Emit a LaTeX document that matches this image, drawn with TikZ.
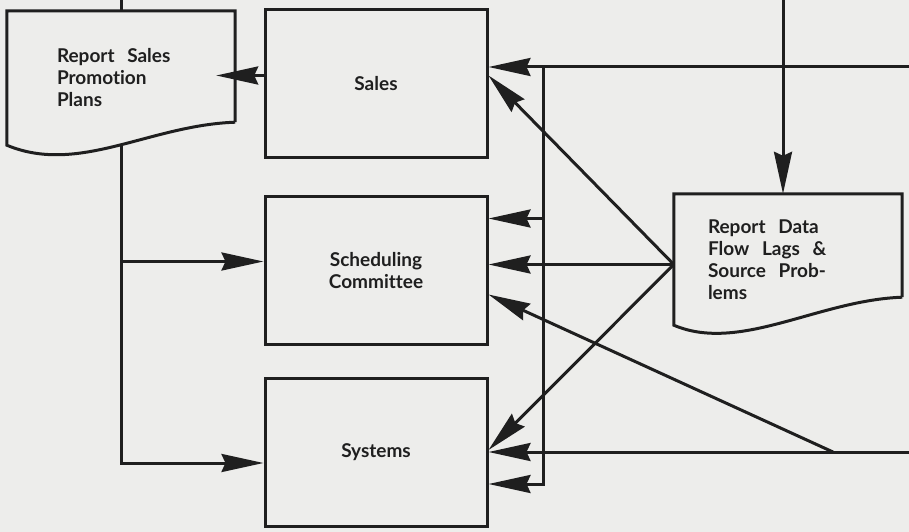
\documentclass[tikz,border=0pt]{standalone}
\usepackage{fontspec}
\setmainfont{Lato}[Ligatures=NoCommon]
\usetikzlibrary{arrows.meta}
\definecolor{paper}{rgb}{0.93,0.93,0.92}
\definecolor{ink}{rgb}{0.12,0.12,0.12}

\tikzset{
  box/.style={draw=ink, line width=3pt, minimum width=222pt, minimum height=148pt,
    align=center, font=\bfseries\fontsize{19}{22}\selectfont, text=ink},
  doc/.style={minimum width=228pt, text width=#1, align=left,
    font=\bfseries\fontsize{19}{22}\selectfont, text=ink},
  flow/.style={draw=ink, line width=3pt},
  arr/.style={flow, -{Stealth[length=42pt,width=18pt,inset=4pt]}},
}

\begin{document}
\begin{tikzpicture}[x=1pt,y=-1pt]
  \fill[paper] (0,0) rectangle (909,532);
  \useasboundingbox (0,0) rectangle (909,532);
  % boxes
  \node[box] (sales) at (376,83.5) {Sales};
  \node[box] (sched) at (376,270.5) {Scheduling\\Committee};
  \node[box] (sys) at (376,452) {Systems};
  % reports
  \node[doc=128pt, minimum height=134pt] (rsp) at (121,78) {Report\ \ Sales\\Promotion\\Plans};
  \node[doc=160pt, minimum height=131pt] (rdf) at (788,259.5) {Report\ \ Data\\Flow\ \ Lags\ \ \&\\Source\ \ Prob-\\lems};
  \draw[flow] ([yshift=23pt]rsp.south east) -- (rsp.north east) -- (rsp.north west) -- (rsp.south west)
    .. controls +(72,30) and +(-86,3) .. ([yshift=23pt]rsp.south east);
  \draw[flow] ([yshift=28pt]rdf.south east) -- (rdf.north east) -- (rdf.north west) -- (rdf.south west)
    .. controls +(66,28) and +(-84,3) .. ([yshift=28pt]rdf.south east);
  % ends coming in from outside
  \coordinate (inL) at (121,0);
  \coordinate (inT) at (783,0);
  \coordinate (inR1) at (909,67);
  \coordinate (inR2) at (909,452);
  \coordinate (bus) at (543,67);
  \coordinate (fork) at (833,452);
  \coordinate (schL) at ([yshift=9pt]sched.west);
  \coordinate (schT) at ([yshift=52pt]sched.east);
  \coordinate (rdL) at ([yshift=-5pt]rdf.west);
  % left side
  \draw[flow] (inL) -- (rsp.north);
  \draw[arr, shorten >=-19pt] ([yshift=8pt]sales.west) -- ([yshift=8pt]sales.west -| rsp.east);
  \draw[arr] (rsp.south) |- ([yshift=-11pt]sys.west);
  \draw[arr] (rsp.south |- schL) -- (schL);
  % right side
  \draw[arr] (inR1) -- (inR1 -| sales.east);
  \draw[arr] (inT) -- (inT |- rdf.north);
  \draw[arr] (bus) |- ([yshift=-32pt]sys.east);
  \draw[arr] (bus |- schT) -- (schT);
  \draw[arr] (rdL) -- ([yshift=8pt]sales.east);
  \draw[arr] (rdL) -- (rdL -| sched.east);
  \draw[arr] (rdL) -- ([yshift=2pt]sys.east);
  \draw[arr] (inR2) -- (sys.east);
  \draw[arr] (fork) -- ([yshift=-24pt]sched.east);
\end{tikzpicture}
\end{document}
